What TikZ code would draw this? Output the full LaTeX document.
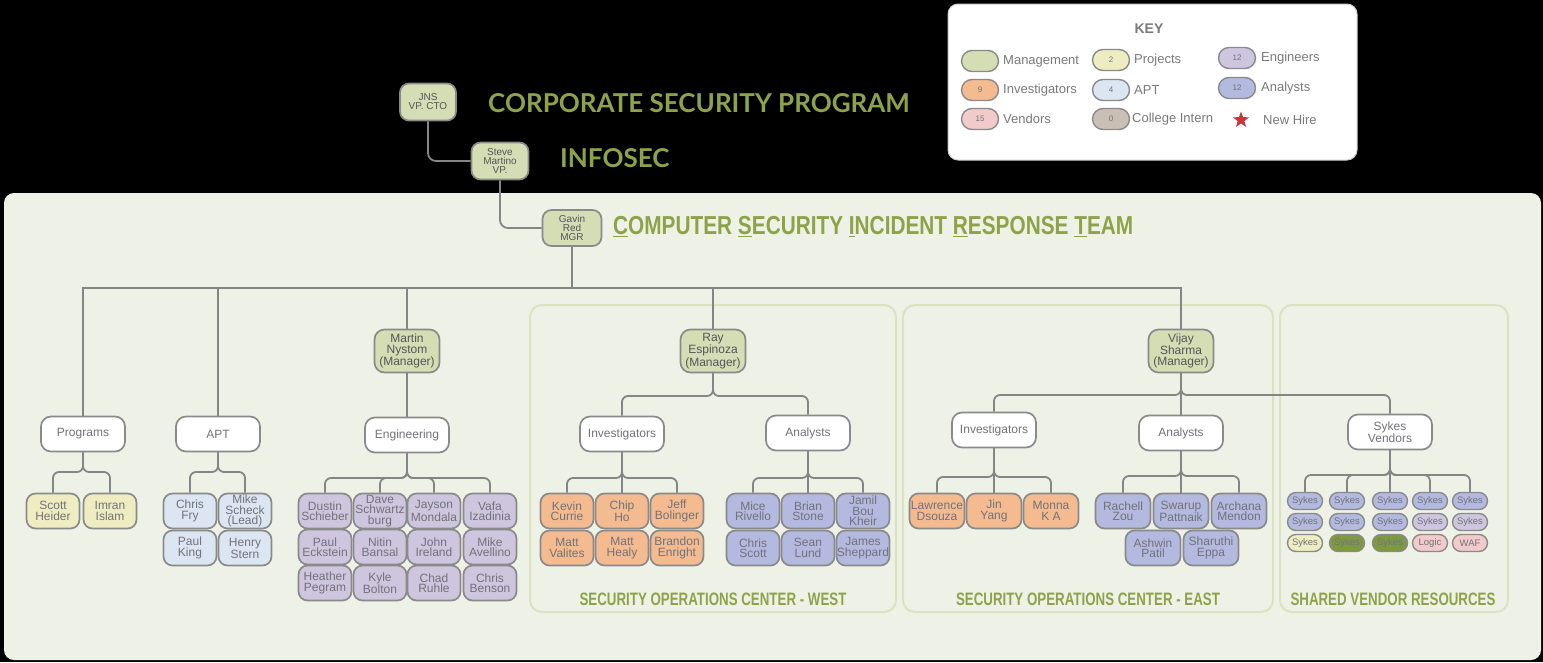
\documentclass[tikz,border=0pt]{standalone}
\usepackage{fontspec}
\setmainfont{Liberation Sans}
\newfontfamily\titlefont{Lato}
\newfontfamily\csirtfont[FakeStretch=0.8]{Liberation Sans}
\newfontfamily\socfont[FakeStretch=0.74]{Liberation Sans}
\usetikzlibrary{shapes.geometric}
\definecolor{mgmt}{HTML}{D4DDB4}
\definecolor{invc}{HTML}{F4BB90}
\definecolor{anac}{HTML}{B4B9E0}
\definecolor{engc}{HTML}{CEC6DF}
\definecolor{aptc}{HTML}{DCE6F2}
\definecolor{prjc}{HTML}{EEEDC2}
\definecolor{venc}{HTML}{F2CACA}
\definecolor{intc}{HTML}{CABFB4}
\definecolor{dkgreen}{HTML}{7E9A3E}
\definecolor{panelc}{HTML}{EEF2E6}
\definecolor{subborder}{HTML}{D9E3C3}
\definecolor{titlegreen}{HTML}{8DA34A}
\definecolor{bordergray}{HTML}{8A8A8A}
\definecolor{conngray}{HTML}{858585}
\definecolor{textgray}{HTML}{727279}
\definecolor{darktext}{HTML}{55555A}
\definecolor{keytext}{HTML}{7A7A7A}
\definecolor{starred}{HTML}{C8363A}
\newcommand\br[3]{\draw[conn] (#1.south) -- (#1.south |- 0,#3) -- (#2.north |- 0,#3) -- (#2.north);}
\newcommand\st[2]{\draw[conn] (#1.south) -- (#2.north);}
\begin{document}
\begin{tikzpicture}[x=1pt,y=-1pt,
  box/.style={draw=bordergray, line width=1.7pt, inner sep=0pt, align=center, text=textgray},
  topbox/.style={box, fill=mgmt, text=darktext, minimum width=57pt, minimum height=37pt, rounded corners=9pt, font=\fontsize{10}{9}\selectfont},
  mgr/.style={box, fill=mgmt, text=darktext, minimum width=65pt, minimum height=43pt, rounded corners=10pt, font=\fontsize{12}{10.5}\selectfont},
  grp/.style={box, fill=white, minimum width=84pt, minimum height=35pt, rounded corners=10pt, font=\fontsize{12}{12}\selectfont},
  pers/.style={box, minimum width=53pt, minimum height=35pt, rounded corners=9pt, font=\fontsize{12}{10.3}\selectfont},
  inv/.style={pers, fill=invc},
  ana/.style={pers, fill=anac},
  eng/.style={pers, fill=engc},
  aptp/.style={pers, fill=aptc},
  prj/.style={pers, fill=prjc},
  pill/.style={box, line width=1.4pt, minimum width=35pt, minimum height=17pt, rounded corners=8.5pt, font=\fontsize{9.5}{9.5}\selectfont},
  keypill/.style={box, line width=1.4pt, minimum width=37pt, minimum height=21pt, rounded corners=10.5pt, font=\fontsize{8}{8}\selectfont},
  keylabel/.style={anchor=west, inner sep=0pt, text=keytext, font=\fontsize{13}{13}\selectfont},
  conn/.style={draw=conngray, line width=1.8pt, rounded corners=6pt},
  subpanel/.style={draw=subborder, line width=2pt, fill=panelc, rounded corners=12pt},
  soc/.style={inner sep=0pt, text=titlegreen, font=\socfont\bfseries\fontsize{18}{18}\selectfont}
]
\useasboundingbox (0,0) rectangle (1543,662);
\fill[black] (0,0) rectangle (1543,662);
\fill[panelc, rounded corners=10pt] (4,193) rectangle (1541,660);
\draw[subpanel] (530,305) rectangle (896,612);
\draw[subpanel] (903,305) rectangle (1273,612);
\draw[subpanel] (1280,305) rectangle (1508,612);

% key
\draw[fill=white, draw=gray!40, rounded corners=10pt, line width=1pt] (948,4) rectangle (1357,160);
\node[inner sep=0pt, text=keytext, font=\bfseries\fontsize{14}{14}\selectfont] (keyt) at (1149,29) {KEY};
\node[keypill, fill=mgmt] (k1) at (980,61) {};
\node[keylabel] (k1l) at (1003,61) {Management};
\node[keypill, fill=invc] (k2) at (980,90) {9};
\node[keylabel] (k2l) at (1003,90) {Investigators};
\node[keypill, fill=venc] (k3) at (980,119) {15};
\node[keylabel] (k3l) at (1003,119) {Vendors};
\node[keypill, fill=prjc] (k4) at (1111,60) {2};
\node[keylabel] (k4l) at (1134,60) {Projects};
\node[keypill, fill=aptc] (k5) at (1111,90) {4};
\node[keylabel] (k5l) at (1134,90) {APT};
\node[keypill, fill=intc] (k6) at (1111,119) {0};
\node[keylabel] (k6l) at (1132,119) {College Intern};
\node[keypill, fill=engc] (k7) at (1237,58) {12};
\node[keylabel] (k7l) at (1261,58) {Engineers};
\node[keypill, fill=anac] (k8) at (1237,88) {12};
\node[keylabel] (k8l) at (1261,88) {Analysts};
\node[star, star points=5, star point ratio=2.4, fill=starred, inner sep=0pt, minimum size=17pt] (k9) at (1241,120) {};
\node[keylabel] (k9l) at (1263,120) {New Hire};

% titles
\node[anchor=west, inner sep=0pt, text=titlegreen, font=\titlefont\bfseries\fontsize{26}{26}\selectfont] (tcorp) at (488,103) {CORPORATE SECURITY PROGRAM};
\node[anchor=west, inner sep=0pt, text=titlegreen, font=\titlefont\bfseries\fontsize{26}{26}\selectfont] (tinfo) at (560,158) {INFOSEC};
\node[anchor=west, inner sep=0pt, text=titlegreen, font=\csirtfont\bfseries\fontsize{26}{26}\selectfont] (tcsirt) at (613,227) {\underline{C}OMPUTER \underline{S}ECURITY \underline{I}NCIDENT \underline{R}ESPONSE \underline{T}EAM};

% top nodes
\node[topbox, minimum width=56pt] (jns) at (428,102) {JNS\\VP. CTO};
\node[topbox] (steve) at (500,161) {Steve\\Martino\\VP.};
\node[topbox, minimum width=59pt, minimum height=36pt] (gavin) at (572,228) {Gavin\\Red\\MGR};

% managers
\node[mgr] (martin) at (407,351) {Martin\\Nystom\\(Manager)};
\node[mgr] (ray) at (713,351) {Ray\\Espinoza\\(Manager)};
\node[mgr] (vijay) at (1181,351) {Vijay\\Sharma\\(Manager)};

% groups
\node[grp] (programs) at (83,434) {Programs};
\node[grp] (apt) at (218,434) {APT};
\node[grp] (eng) at (407,435) {Engineering};
\node[grp] (invw) at (622,434) {Investigators};
\node[grp] (anaw) at (808,433) {Analysts};
\node[grp] (inve) at (994,430) {Investigators};
\node[grp] (anae) at (1181,433) {Analysts};
\node[grp] (sykes) at (1390,432) {Sykes\\Vendors};

% programs
\node[prj] (scott) at (53,511) {Scott\\Heider};
\node[prj] (imran) at (110,511) {Imran\\Islam};
% apt
\node[aptp] (chris) at (190,511) {Chris\\Fry};
\node[aptp] (mike) at (245,511) {Mike\\Scheck\\(Lead)};
\node[aptp] (paul) at (190,548) {Paul\\King};
\node[aptp] (henry) at (245,548) {Henry\\Stern};
% engineering
\node[eng] (e11) at (325,511) {Dustin\\Schieber};
\node[eng] (e12) at (380,511) {Dave\\Schwartz\\burg};
\node[eng] (e13) at (434,511) {Jayson\\Mondala};
\node[eng] (e14) at (490,511) {Vafa\\Izadinia};
\node[eng] (e21) at (325,547) {Paul\\Eckstein};
\node[eng] (e22) at (380,547) {Nitin\\Bansal};
\node[eng] (e23) at (434,547) {John\\Ireland};
\node[eng] (e24) at (490,547) {Mike\\Avellino};
\node[eng] (e31) at (325,583) {Heather\\Pegram};
\node[eng] (e32) at (380,583) {Kyle\\Bolton};
\node[eng] (e33) at (434,583) {Chad\\Ruhle};
\node[eng] (e34) at (490,583) {Chris\\Benson};
% SOC west investigators
\node[inv] (w11) at (567,511) {Kevin\\Currie};
\node[inv] (w12) at (622,511) {Chip\\Ho};
\node[inv] (w13) at (677,511) {Jeff\\Bolinger};
\node[inv] (w21) at (567,548) {Matt\\Valites};
\node[inv] (w22) at (622,548) {Matt\\Healy};
\node[inv] (w23) at (677,548) {Brandon\\Enright};
% SOC west analysts
\node[ana] (a11) at (753,511) {Mice\\Rivello};
\node[ana] (a12) at (808,511) {Brian\\Stone};
\node[ana] (a13) at (863,511) {Jamil\\Bou\\Kheir};
\node[ana] (a21) at (753,548) {Chris\\Scott};
\node[ana] (a22) at (808,548) {Sean\\Lund};
\node[ana] (a23) at (863,548) {James\\Sheppard};
% SOC east investigators
\node[inv, minimum width=55pt] (x11) at (937,511) {Lawrence\\Dsouza};
\node[inv, minimum width=55pt] (x12) at (994,511) {Jin\\Yang};
\node[inv, minimum width=55pt] (x13) at (1051,511) {Monna\\K A};
% SOC east analysts
\node[ana, minimum width=55pt] (y11) at (1123,511) {Rachell\\Zou};
\node[ana, minimum width=55pt] (y12) at (1181,511) {Swarup\\Pattnaik};
\node[ana, minimum width=55pt] (y13) at (1239,511) {Archana\\Mendon};
\node[ana, minimum width=55pt] (y21) at (1153,548) {Ashwin\\Patil};
\node[ana, minimum width=55pt] (y22) at (1211,548) {Sharuthi\\Eppa};
% vendors
\node[pill, fill=anac] (v11) at (1305,501) {Sykes};
\node[pill, fill=anac] (v12) at (1347,501) {Sykes};
\node[pill, fill=anac] (v13) at (1390,501) {Sykes};
\node[pill, fill=anac] (v14) at (1430,501) {Sykes};
\node[pill, fill=anac] (v15) at (1470,501) {Sykes};
\node[pill, fill=anac] (v21) at (1305,522) {Sykes};
\node[pill, fill=anac] (v22) at (1347,522) {Sykes};
\node[pill, fill=anac] (v23) at (1390,522) {Sykes};
\node[pill, fill=engc] (v24) at (1430,522) {Sykes};
\node[pill, fill=engc] (v25) at (1470,522) {Sykes};
\node[pill, fill=prjc] (v31) at (1305,543) {Sykes};
\node[pill, fill=dkgreen] (v32) at (1347,543) {Sykes};
\node[pill, fill=dkgreen] (v33) at (1390,543) {Sykes};
\node[pill, fill=venc] (v34) at (1430,543) {Logic};
\node[pill, fill=venc] (v35) at (1470,543) {WAF};

\node[soc] (socw) at (713,599) {SECURITY OPERATIONS CENTER - WEST};
\node[soc] (soce) at (1088,599) {SECURITY OPERATIONS CENTER - EAST};
\node[soc] (socv) at (1393,599) {SHARED VENDOR RESOURCES};

% connectors
\draw[conn, rounded corners=8pt] (jns.south) |- (steve.west);
\draw[conn, rounded corners=8pt] (steve.south) |- (gavin.west);
\draw[conn, sharp corners] (programs.north) -- (programs.north |- 0,288) -- (vijay.north |- 0,288) -- (vijay.north);
\draw[conn] (gavin.south) -- (gavin.south |- 0,288);
\draw[conn] (apt.north) -- (apt.north |- 0,288);
\draw[conn] (martin.north) -- (martin.north |- 0,288);
\draw[conn] (ray.north) -- (ray.north |- 0,288);
\draw[conn] (martin.south) -- (eng.north);
\br{programs}{scott}{472} \br{programs}{imran}{472}
\br{apt}{chris}{472} \br{apt}{mike}{472}
\br{eng}{e11}{478} \br{eng}{e12}{478} \br{eng}{e13}{478} \br{eng}{e14}{478}
\br{ray}{invw}{396} \br{ray}{anaw}{396}
\br{invw}{w11}{478} \st{invw}{w12} \br{invw}{w13}{478}
\br{anaw}{a11}{478} \st{anaw}{a12} \br{anaw}{a13}{478}
\st{vijay}{anae} \br{vijay}{inve}{395} \br{vijay}{sykes}{395}
\br{inve}{x11}{477} \st{inve}{x12} \br{inve}{x13}{477}
\br{anae}{y11}{476} \st{anae}{y12} \br{anae}{y13}{476}
\br{sykes}{v11}{475} \br{sykes}{v12}{475} \st{sykes}{v13} \br{sykes}{v14}{475} \br{sykes}{v15}{475}
\end{tikzpicture}
\end{document}
